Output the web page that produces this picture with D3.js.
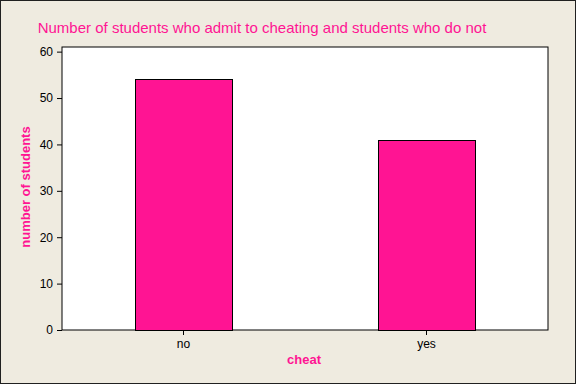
<!DOCTYPE html>
<html>
  <head>
    <meta http-equiv="Content-Type" content="text/html;charset=utf-8"/>
    <script type="text/javascript" src="https://cdn.jsdelivr.net/npm/d3@7"></script>
    <style type="text/css">
      body { margin: 0; }
      text { font-family: "Liberation Sans", Arial, sans-serif; }
      .tick text { font-size: 12px; fill: #000; }
      .lbl { fill: #ff1493; font-weight: bold; font-size: 13px; }
    </style>
  </head>
  <body>
    <svg id="chart"></svg>
    <script type="text/javascript">

    var categories = ["no", "yes"];
    var counts = [54, 41];
    var yTicks = [0, 10, 20, 30, 40, 50, 60];

    var w = 576, h = 384;
    var pink = "#ff1493";
    var plot = {left: 62, right: 548, top: 47, bottom: 330};

    var svg = d3.select("#chart").attr("width", w).attr("height", h);

    svg.append("rect")
        .attr("x", 0.5).attr("y", 0.5)
        .attr("width", w - 1).attr("height", h - 1)
        .attr("fill", "#efebe0")
        .attr("stroke", "#202020");

    var x = d3.scaleBand()
        .domain(categories)
        .range([plot.left, plot.right])
        .paddingInner(0.6)
        .paddingOuter(0.3);

    var y = d3.scaleLinear()
        .domain([0, 61])
        .range([plot.bottom, plot.top]);

    svg.append("rect")
        .attr("x", plot.left).attr("y", plot.top)
        .attr("width", plot.right - plot.left)
        .attr("height", plot.bottom - plot.top)
        .attr("fill", "#fff")
        .attr("stroke", "#000");

    svg.selectAll(".bar").data(counts).enter().append("rect")
        .attr("class", "bar")
        .attr("x", function(d, i) { return Math.round(x(categories[i])) + 0.5; })
        .attr("y", function(d) { return Math.round(y(d)) + 0.5; })
        .attr("width", Math.round(x.bandwidth()))
        .attr("height", function(d) { return Math.round(y(0)) - Math.round(y(d)); })
        .attr("fill", pink)
        .attr("stroke", "#000");

    var yAxis = svg.append("g")
        .attr("transform", "translate(" + plot.left + ",0)")
        .call(d3.axisLeft(y).tickValues(yTicks).tickSize(5).tickPadding(4));
    yAxis.select(".domain").remove();

    var xAxis = svg.append("g")
        .attr("transform", "translate(0," + plot.bottom + ")")
        .call(d3.axisBottom(x).tickSize(5).tickPadding(4));
    xAxis.select(".domain").remove();

    svg.append("text")
        .attr("x", 262).attr("y", 33)
        .attr("text-anchor", "middle")
        .attr("fill", pink)
        .style("font-size", "15px")
        .text("Number of students who admit to cheating and students who do not");

    svg.append("text")
        .attr("class", "lbl")
        .attr("x", 304).attr("y", 364)
        .attr("text-anchor", "middle")
        .text("cheat");

    svg.append("text")
        .attr("class", "lbl")
        .attr("transform", "translate(30,187) rotate(-90)")
        .attr("text-anchor", "middle")
        .text("number of students");

    </script>
  </body>
</html>
